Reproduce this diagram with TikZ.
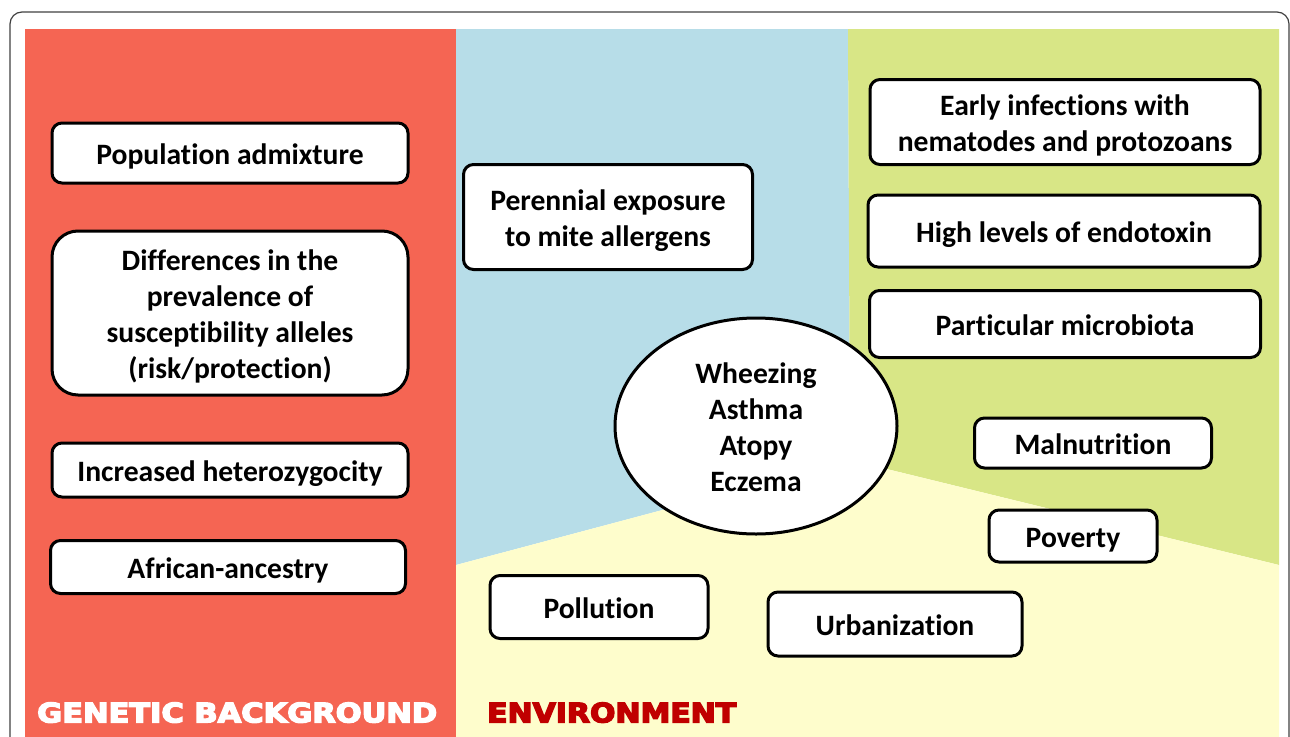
\documentclass[tikz,border=0pt]{standalone}
\usepackage{fontspec}
\setmainfont[Ligatures=NoCommon]{Carlito}
\newfontfamily\headfont[FakeBold=5]{DejaVu Sans}
\usetikzlibrary{shapes.geometric}

\definecolor{genred}{RGB}{245,101,83}
\definecolor{envblue}{RGB}{183,221,232}
\definecolor{envgreen}{RGB}{216,230,134}
\definecolor{envyellow}{RGB}{254,253,204}
\definecolor{envdark}{RGB}{192,0,0}

\newcommand{\lowered}[1]{\raisebox{-4pt}[\height][\depth]{\begin{tabular}{@{}c@{}}#1\end{tabular}}}

\begin{document}
\begin{tikzpicture}[x=1pt,y=-1pt,
		factor/.style={draw=black, line width=3pt, fill=white, rounded corners=10pt, inner sep=0pt, font=\fontsize{29.6}{36}\selectfont\bfseries},
		outcome/.style={ellipse, draw=black, line width=3pt, fill=white, inner sep=0pt, minimum width=282pt, minimum height=216pt, font=\fontsize{29.6}{36}\selectfont\bfseries},
		heading/.style={inner sep=0pt, font=\headfont\bfseries}]
		\useasboundingbox (0,0) rectangle (1290,736);
		\clip (0,0) rectangle (1290,736);
		
		\fill[genred] (25,29) rectangle (456,740);
		\fill[envblue] (456,29) -- (848,29) -- (850,460) -- (456,565) -- cycle;
		\fill[envgreen] (848,29) -- (1279,29) -- (1279,565) -- (850,460) -- cycle;
		\fill[envyellow] (456,565) -- (850,460) -- (1279,565) -- (1279,740) -- (456,740) -- cycle;
		\draw[black!75, line width=1.2pt, rounded corners=12pt] (10,760) -- (10,12) -- (1289,12) -- (1289,760);
		
		\node[factor, minimum width=356pt, minimum height=60pt] (popadm) at (230,153) {\lowered{Population admixture}};
		\node[factor, minimum width=356pt, minimum height=164pt, rounded corners=26pt] (allel) at (230,313) {\lowered{Differences in the\\prevalence of\\susceptibility alleles\\(risk/protection)}};
		\node[factor, minimum width=356pt, minimum height=54pt] (hetero) at (230,470) {\lowered{Increased heterozygocity}};
		\node[factor, minimum width=355pt, minimum height=53pt] (african) at (228,567) {\lowered{African-ancestry}};
		
		\node[factor, minimum width=289pt, minimum height=105pt] (mite) at (608,217) {\lowered{Perennial exposure\\to mite allergens}};
		\node[factor, minimum width=390pt, minimum height=85pt] (infect) at (1065,122) {\lowered{Early infections with\\nematodes and protozoans}};
		\node[factor, minimum width=392pt, minimum height=72pt] (endotox) at (1064,231) {\lowered{High levels of endotoxin}};
		\node[factor, minimum width=391pt, minimum height=67pt] (microb) at (1065,324) {\lowered{Particular microbiota}};
		\node[factor, minimum width=237pt, minimum height=50pt] (malnut) at (1093,443) {\lowered{Malnutrition}};
		\node[factor, minimum width=168pt, minimum height=52pt] (poverty) at (1073,536) {\lowered{Poverty}};
		\node[factor, minimum width=218pt, minimum height=63pt] (pollut) at (599,607) {\lowered{Pollution}};
		\node[factor, minimum width=254pt, minimum height=64pt] (urban) at (895,624) {\lowered{Urbanization}};
		
		\node[outcome] (disease) at (756,426) {\lowered{Wheezing\\Asthma\\Atopy\\Eczema}};
		
		\node[heading, text=white, anchor=south west] (genlabel) at (37,723) {\resizebox{400pt}{20pt}{GENETIC BACKGROUND}};
		\node[heading, text=envdark, anchor=south west] (envlabel) at (487,723) {\resizebox{249pt}{20pt}{ENVIRONMENT}};
\end{tikzpicture}
\end{document}
